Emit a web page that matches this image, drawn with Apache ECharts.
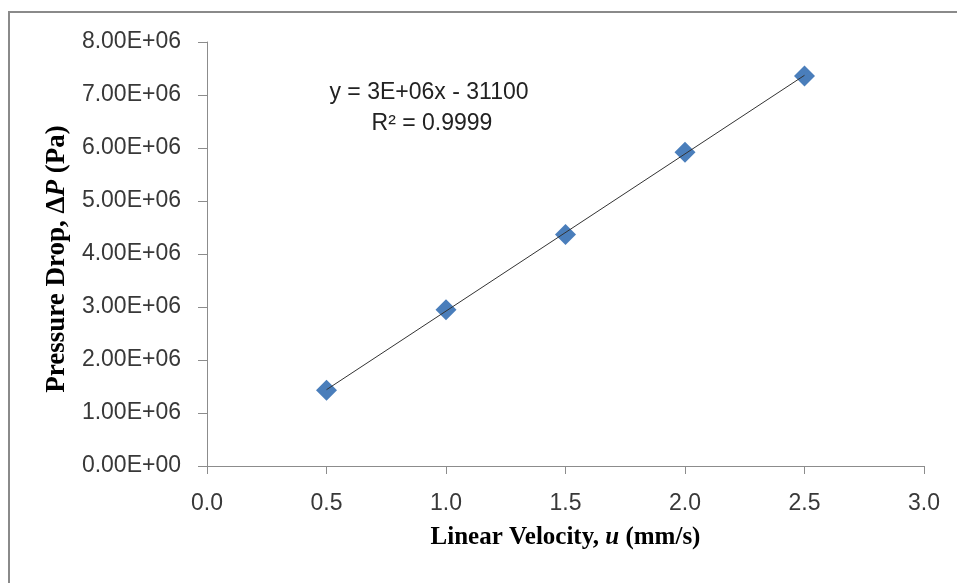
<!DOCTYPE html>
<html>
<head>
<meta charset="utf-8">
<style>
  html, body { margin: 0; padding: 0; background: #fff; }
  #chart { width: 957px; height: 583px; }
</style>
<script src="https://cdn.jsdelivr.net/npm/echarts@6/dist/echarts.min.js"></script>
</head>
<body>
<div id="chart"></div>
<script>
// Measured pressure drop against linear velocity
const velocity = [0.5, 1.0, 1.5, 2.0, 2.5];          // mm/s
const pressureDrop = [1.43e6, 2.95e6, 4.37e6, 5.92e6, 7.36e6]; // Pa
const xTicks = { min: 0, max: 3, interval: 0.5 };
const yTicks = { min: 0, max: 8e6, interval: 1e6 };
const equationText = 'y = 3E+06x - 31100';
const r2Text = 'R² = 0.9999';

// Least-squares linear fit through the measurements
function linearFit(xs, ys) {
  const n = xs.length;
  const mx = xs.reduce((a, b) => a + b, 0) / n;
  const my = ys.reduce((a, b) => a + b, 0) / n;
  let sxy = 0, sxx = 0;
  for (let i = 0; i < n; i++) {
    sxy += (xs[i] - mx) * (ys[i] - my);
    sxx += (xs[i] - mx) * (xs[i] - mx);
  }
  const slope = sxy / sxx;
  return { slope, intercept: my - slope * mx };
}
const fit = linearFit(velocity, pressureDrop);
const xFirst = Math.min(...velocity), xLast = Math.max(...velocity);
const trend = [
  [xFirst, fit.slope * xFirst + fit.intercept],
  [xLast, fit.slope * xLast + fit.intercept]
];

function sci(v) {
  if (v === 0) return '0.00E+00';
  const e = Math.floor(Math.log10(Math.abs(v)) + 1e-9);
  const m = v / Math.pow(10, e);
  return m.toFixed(2) + 'E' + (e < 0 ? '-' : '+') + String(Math.abs(e)).padStart(2, '0');
}

const axisGray = '#8c8c8c';
const labelFont = '"Liberation Sans", Arial, sans-serif';
const serif = '"Liberation Serif", "Times New Roman", serif';

const chart = echarts.init(document.getElementById('chart'), null, { renderer: 'canvas' });
chart.setOption({
  animation: false,
  backgroundColor: '#ffffff',
  grid: { left: 207, right: 33, top: 42, bottom: 117, containLabel: false },
  xAxis: {
    type: 'value',
    min: xTicks.min, max: xTicks.max, interval: xTicks.interval,
    axisLine: { show: true, onZero: false, lineStyle: { color: axisGray, width: 1 } },
    axisTick: { show: true, inside: false, length: 8, lineStyle: { color: axisGray } },
    splitLine: { show: false },
    axisLabel: {
      margin: 26, color: '#383838', fontFamily: labelFont, fontSize: 23,
      formatter: v => v.toFixed(1)
    },
    name: '{b|Linear Velocity, }{i|u}{b| (mm/s)}',
    nameLocation: 'middle',
    nameGap: 59,
    nameTextStyle: {
      rich: {
        b: { fontFamily: serif, fontWeight: 'bold', fontSize: 25, color: '#000' },
        i: { fontFamily: serif, fontWeight: 'bold', fontStyle: 'italic', fontSize: 25, color: '#000' }
      }
    }
  },
  yAxis: {
    type: 'value',
    min: yTicks.min, max: yTicks.max, interval: yTicks.interval,
    axisLine: { show: true, lineStyle: { color: axisGray, width: 1 } },
    axisTick: { show: true, inside: false, length: 9, lineStyle: { color: axisGray } },
    splitLine: { show: false },
    axisLabel: {
      margin: 26, color: '#383838', fontFamily: labelFont, fontSize: 23,
      formatter: v => sci(v)
    },
    name: '{b|Pressure Drop, Δ}{i|P}{b| (Pa)}',
    nameLocation: 'middle',
    nameGap: 124,
    nameRotate: 90,
    nameTextStyle: {
      padding: [0, 10, 0, 0],
      rich: {
        b: { fontFamily: serif, fontWeight: 'bold', fontSize: 27, color: '#000' },
        i: { fontFamily: serif, fontWeight: 'bold', fontStyle: 'italic', fontSize: 27, color: '#000' }
      }
    }
  },
  graphic: [
    {
      type: 'rect', silent: true, z: -1,
      shape: { x: 9, y: 12, width: 1000, height: 700 },
      style: { fill: 'none', stroke: '#8a8a8a', lineWidth: 2 }
    },
    {
      type: 'text', x: 429, y: 93,
      style: { text: equationText, font: '23px ' + labelFont, fill: '#222', align: 'center', verticalAlign: 'middle' }
    },
    {
      type: 'text', x: 432, y: 124,
      style: { text: r2Text, font: '23px ' + labelFont, fill: '#222', align: 'center', verticalAlign: 'middle' }
    }
  ],
  series: [
    {
      name: 'Trend',
      type: 'line',
      data: trend,
      symbol: 'none',
      lineStyle: { color: '#333', width: 1 },
      z: 3,
      silent: true
    },
    {
      name: 'ΔP',
      type: 'scatter',
      data: velocity.map((x, i) => [x, pressureDrop[i]]),
      symbol: 'diamond',
      symbolSize: [21, 21],
      itemStyle: { color: '#4a7ebb', opacity: 1 },
      z: 2
    }
  ]
});
</script>
</body>
</html>
